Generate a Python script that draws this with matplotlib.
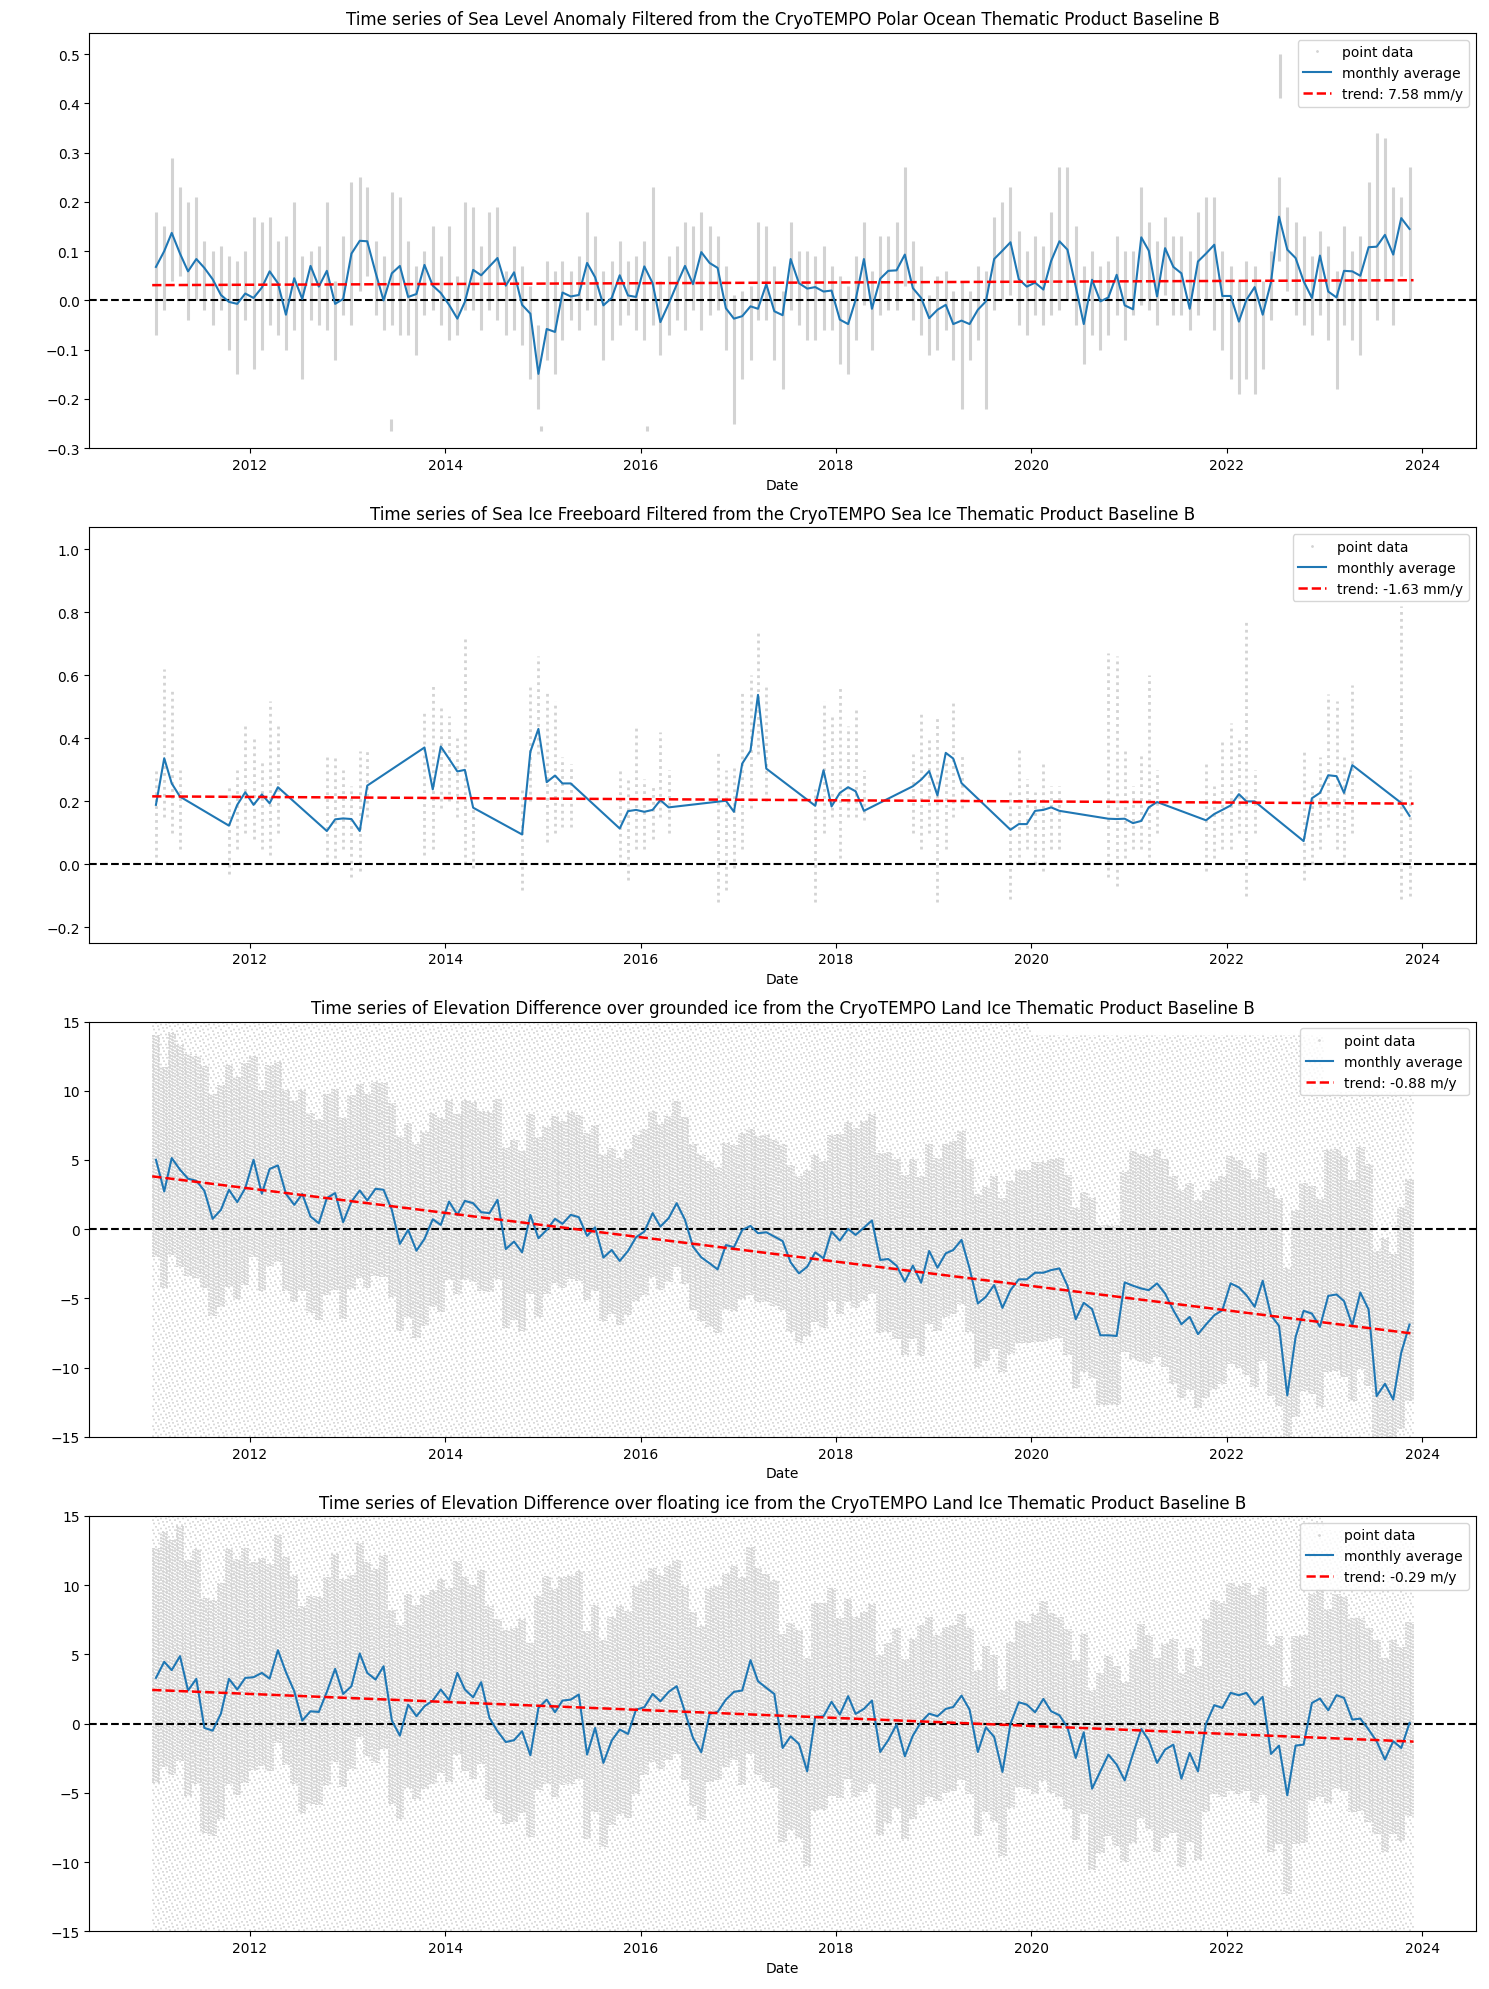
#!/usr/bin/env python3
'''
CryoTEMPO Baseline B time series: point data, monthly averages and trends
'''
import numpy as np
import matplotlib
matplotlib.use('Agg')
from matplotlib import pyplot as plt

# ---------------------------------------------------------------- data
# monthly averages, Jan 2011 .. Nov 2023 (155 months)
sla_mean = [
    0.068, 0.100, 0.137, 0.095, 0.059, 0.084, 0.066, 0.043, 0.011, -0.003, -0.007, 0.014,
    0.005, 0.026, 0.059, 0.035, -0.029, 0.045, 0.003, 0.070, 0.028, 0.060, -0.007, 0.003,
    0.095, 0.121, 0.120, 0.057, 0.000, 0.055, 0.070, 0.007, 0.013, 0.072, 0.030, 0.015,
    -0.009, -0.037, -0.003, 0.062, 0.051, 0.069, 0.086, 0.030, 0.057, -0.009, -0.027, -0.149,
    -0.058, -0.064, 0.016, 0.008, 0.011, 0.076, 0.047, -0.010, 0.005, 0.051, 0.010, 0.007,
    0.069, 0.035, -0.044, -0.007, 0.032, 0.070, 0.033, 0.098, 0.076, 0.066, -0.016, -0.037,
    -0.032, -0.012, -0.017, 0.033, -0.022, -0.030, 0.084, 0.035, 0.024, 0.027, 0.018, 0.020,
    -0.039, -0.048, 0.001, 0.084, -0.017, 0.044, 0.060, 0.061, 0.093, 0.025, 0.005, -0.036,
    -0.019, -0.009, -0.048, -0.041, -0.048, -0.019, -0.002, 0.084, 0.101, 0.118, 0.043, 0.028,
    0.036, 0.022, 0.080, 0.120, 0.103, 0.028, -0.048, 0.042, -0.002, 0.006, 0.052, -0.010,
    -0.018, 0.128, 0.101, 0.008, 0.106, 0.068, 0.055, -0.017, 0.079, 0.095, 0.113, 0.009,
    0.009, -0.043, 0.001, 0.027, -0.029, 0.037, 0.170, 0.103, 0.086, 0.039, 0.005, 0.091,
    0.018, 0.006, 0.060, 0.059, 0.050, 0.108, 0.109, 0.133, 0.093, 0.167, 0.145]

# extent of the sea level point data in each month
sla_pt_lo = [
    -0.07, -0.02, 0.04, 0.05, -0.04, 0.00, -0.02, -0.05, -0.02, -0.10, -0.15, -0.04,
    -0.14, -0.10, -0.05, -0.07, -0.10, -0.06, -0.16, -0.04, -0.05, -0.06, -0.12, -0.03,
    -0.05, 0.02, 0.05, -0.03, -0.06, -0.05, -0.07, -0.07, -0.11, -0.03, -0.02, -0.05,
    -0.08, -0.07, -0.02, -0.02, -0.06, -0.02, -0.04, -0.07, -0.06, -0.09, -0.16, -0.22,
    -0.12, -0.15, -0.08, -0.04, -0.06, -0.02, -0.05, -0.12, -0.08, -0.05, -0.03, -0.06,
    -0.08, -0.05, -0.11, -0.07, -0.04, -0.06, -0.02, -0.06, -0.03, -0.02, -0.10, -0.25,
    -0.16, -0.12, -0.04, -0.04, -0.12, -0.18, -0.02, -0.05, -0.08, -0.08, -0.06, -0.06,
    -0.13, -0.15, -0.08, -0.01, -0.10, -0.03, -0.02, -0.02, 0.03, -0.04, -0.07, -0.11,
    -0.10, -0.06, -0.12, -0.22, -0.12, -0.08, -0.22, -0.02, 0.00, 0.01, -0.05, -0.07,
    -0.03, -0.05, -0.03, -0.02, 0.00, -0.05, -0.13, -0.07, -0.10, -0.07, -0.03, -0.08,
    -0.03, -0.01, -0.02, -0.05, 0.01, -0.03, -0.03, -0.06, -0.03, 0.00, -0.06, -0.10,
    -0.16, -0.19, -0.16, -0.19, -0.14, -0.04, 0.08, 0.02, -0.03, -0.05, -0.07, -0.03,
    -0.08, -0.18, -0.05, -0.08, -0.11, 0.00, -0.04, 0.04, -0.05, 0.05, 0.00]
sla_pt_hi = [
    0.18, 0.15, 0.29, 0.23, 0.20, 0.21, 0.12, 0.10, 0.11, 0.09, 0.08, 0.10,
    0.17, 0.16, 0.17, 0.12, 0.13, 0.20, 0.09, 0.10, 0.11, 0.20, 0.04, 0.13,
    0.24, 0.25, 0.23, 0.12, 0.09, 0.22, 0.21, 0.12, 0.07, 0.10, 0.15, 0.09,
    0.15, 0.05, 0.20, 0.19, 0.11, 0.18, 0.19, 0.06, 0.11, 0.07, 0.03, -0.05,
    0.08, 0.06, 0.08, 0.06, 0.09, 0.18, 0.13, 0.06, 0.08, 0.12, 0.08, 0.09,
    0.12, 0.23, 0.04, 0.09, 0.11, 0.16, 0.15, 0.18, 0.15, 0.13, 0.07, 0.01,
    0.02, 0.03, 0.16, 0.15, 0.07, 0.02, 0.16, 0.10, 0.10, 0.09, 0.11, 0.07,
    0.05, 0.03, 0.09, 0.16, 0.06, 0.13, 0.13, 0.16, 0.27, 0.12, 0.07, 0.01,
    0.05, 0.06, 0.02, 0.04, 0.02, 0.07, 0.06, 0.17, 0.20, 0.23, 0.14, 0.10,
    0.13, 0.11, 0.18, 0.27, 0.27, 0.15, 0.07, 0.10, 0.07, 0.08, 0.13, 0.10,
    0.10, 0.23, 0.16, 0.12, 0.17, 0.13, 0.13, 0.10, 0.18, 0.21, 0.21, 0.10,
    0.07, 0.04, 0.08, 0.07, 0.04, 0.10, 0.25, 0.19, 0.16, 0.13, 0.09, 0.14,
    0.11, 0.06, 0.15, 0.10, 0.13, 0.24, 0.34, 0.33, 0.23, 0.21, 0.27]
# isolated sea level strips outside the main spread
sla_out_day = ['2013-06-10', '2014-12-25', '2016-01-25', '2022-07-20']
sla_out_lo = [-0.265, -0.265, -0.265, 0.41]
sla_out_hi = [-0.240, -0.255, -0.255, 0.50]
sla_trend = [0.031, 0.041]

# sea ice freeboard: winter months only
fb_months = [
    '2011-01', '2011-02', '2011-03', '2011-04',
    '2011-10', '2011-11', '2011-12', '2012-01', '2012-02', '2012-03', '2012-04',
    '2012-10', '2012-11', '2012-12', '2013-01', '2013-02', '2013-03',
    '2013-10', '2013-11', '2013-12', '2014-01', '2014-02', '2014-03', '2014-04',
    '2014-10', '2014-11', '2014-12', '2015-01', '2015-02', '2015-03', '2015-04',
    '2015-10', '2015-11', '2015-12', '2016-01', '2016-02', '2016-03', '2016-04',
    '2016-10', '2016-11', '2016-12', '2017-01', '2017-02', '2017-03', '2017-04',
    '2017-10', '2017-11', '2017-12', '2018-01', '2018-02', '2018-03', '2018-04',
    '2018-10', '2018-11', '2018-12', '2019-01', '2019-02', '2019-03', '2019-04',
    '2019-10', '2019-11', '2019-12', '2020-01', '2020-02', '2020-03', '2020-04',
    '2020-10', '2020-11', '2020-12', '2021-01', '2021-02', '2021-03', '2021-04',
    '2021-10', '2021-11', '2021-12', '2022-01', '2022-02', '2022-03', '2022-04',
    '2022-10', '2022-11', '2022-12', '2023-01', '2023-02', '2023-03', '2023-04',
    '2023-10', '2023-11']
fb_mean = [
    0.189, 0.337, 0.257, 0.215,
    0.123, 0.189, 0.229, 0.189, 0.222, 0.194, 0.245,
    0.106, 0.143, 0.146, 0.144, 0.106, 0.250,
    0.371, 0.238, 0.374, 0.335, 0.295, 0.300, 0.180,
    0.095, 0.358, 0.430, 0.261, 0.282, 0.257, 0.257,
    0.114, 0.169, 0.173, 0.167, 0.173, 0.204, 0.181,
    0.199, 0.202, 0.167, 0.320, 0.361, 0.538, 0.304,
    0.186, 0.299, 0.184, 0.227, 0.245, 0.232, 0.170,
    0.248, 0.269, 0.296, 0.219, 0.354, 0.336, 0.258,
    0.110, 0.128, 0.128, 0.170, 0.173, 0.181, 0.170,
    0.145, 0.144, 0.145, 0.131, 0.138, 0.181, 0.198,
    0.140, 0.160, 0.173, 0.187, 0.223, 0.200, 0.200,
    0.074, 0.210, 0.227, 0.283, 0.280, 0.227, 0.315,
    0.195, 0.154]
fb_pt_lo = [
    0.00, 0.15, 0.10, 0.05,
    -0.03, 0.05, 0.10, 0.08, 0.05, 0.03, 0.10,
    0.00, 0.02, 0.05, -0.04, -0.02, 0.15,
    0.03, 0.05, 0.18, 0.20, 0.15, 0.00, -0.01,
    -0.08, 0.20, 0.35, 0.07, 0.10, 0.12, 0.12,
    0.00, -0.05, 0.05, 0.05, 0.08, 0.15, 0.10,
    -0.12, -0.08, -0.01, 0.05, 0.18, 0.35, 0.20,
    -0.12, 0.10, 0.15, 0.02, 0.15, 0.15, 0.14,
    0.10, 0.05, 0.10, -0.12, 0.05, 0.15, 0.18,
    -0.11, 0.00, 0.05, 0.00, -0.02, 0.05, 0.05,
    -0.04, -0.07, 0.02, 0.05, 0.05, 0.00, 0.10,
    -0.02, 0.02, 0.05, 0.05, 0.10, -0.10, 0.10,
    -0.05, 0.00, 0.05, 0.12, 0.05, 0.00, 0.10,
    -0.11, -0.10]
fb_pt_hi = [
    0.30, 0.62, 0.56, 0.30,
    0.25, 0.30, 0.45, 0.40, 0.33, 0.52, 0.45,
    0.35, 0.35, 0.30, 0.25, 0.36, 0.36,
    0.48, 0.57, 0.50, 0.47, 0.40, 0.72, 0.18,
    0.25, 0.57, 0.66, 0.55, 0.52, 0.34, 0.32,
    0.30, 0.28, 0.44, 0.27, 0.25, 0.42, 0.30,
    0.36, 0.30, 0.32, 0.55, 0.60, 0.74, 0.57,
    0.24, 0.52, 0.48, 0.56, 0.44, 0.50, 0.30,
    0.35, 0.48, 0.40, 0.47, 0.33, 0.52, 0.35,
    0.23, 0.37, 0.27, 0.23, 0.33, 0.25, 0.25,
    0.67, 0.66, 0.37, 0.25, 0.35, 0.60, 0.30,
    0.33, 0.25, 0.40, 0.45, 0.40, 0.77, 0.30,
    0.36, 0.26, 0.34, 0.54, 0.52, 0.35, 0.57,
    0.82, 0.30]
fb_trend = [0.216, 0.193]

# land ice elevation difference, grounded ice (m)
grd_mean = [
    5.02, 2.73, 5.14, 4.30, 3.65, 3.50, 2.78, 0.75, 1.40, 2.85, 1.96, 2.97,
    5.02, 2.56, 4.35, 4.61, 2.56, 1.76, 2.54, 0.92, 0.43, 2.25, 2.61, 0.51,
    2.00, 2.80, 2.08, 2.92, 2.85, 1.40, -1.06, -0.05, -1.55, -0.70, 0.72, 0.31,
    2.00, 1.04, 2.05, 1.88, 1.23, 1.16, 2.13, -1.43, -0.89, -1.67, 1.04, -0.65,
    -0.05, 0.75, 0.39, 1.04, 0.87, -0.48, 0.14, -2.05, -1.50, -2.29, -1.57, -0.58,
    -0.17, 1.16, 0.19, 0.80, 1.88, 0.68, -1.26, -2.03, -2.46, -2.90, -1.14, -1.30,
    -0.05, 0.24, -0.29, -0.22, -0.53, -0.85, -2.39, -3.19, -2.71, -1.67, -2.10, -0.17,
    -0.82, 0.02, -0.41, 0.12, 0.63, -2.22, -2.15, -2.63, -3.79, -2.63, -3.86, -1.57,
    -2.78, -1.74, -1.50, -0.77, -2.83, -5.36, -4.88, -4.03, -5.68, -4.40, -3.62, -3.62,
    -3.14, -3.14, -2.95, -2.83, -4.08, -6.50, -5.31, -5.77, -7.66, -7.66, -7.71, -3.84,
    -4.08, -4.28, -4.40, -3.91, -4.64, -5.85, -6.86, -6.33, -7.58, -6.88, -6.21, -5.85,
    -3.91, -4.20, -4.76, -5.60, -3.72, -6.21, -6.98, -12.00, -7.78, -5.89, -6.09, -7.05,
    -4.81, -4.71, -5.19, -6.93, -4.57, -5.80, -12.05, -11.16, -12.30, -8.91, -6.88]
grd_trend = [3.82, -7.54]

# land ice elevation difference, floating ice (m)
flt_mean = [
    3.30, 4.46, 3.86, 4.87, 2.39, 3.23, -0.31, -0.51, 0.72, 3.23, 2.46, 3.30,
    3.35, 3.66, 3.25, 5.30, 3.71, 2.34, 0.22, 0.89, 0.84, 2.29, 3.95, 2.14,
    2.70, 5.06, 3.66, 3.18, 4.14, 0.22, -0.87, 1.37, 0.53, 1.25, 1.66, 2.46,
    1.69, 3.66, 2.46, 1.90, 2.99, 0.41, -0.55, -1.33, -1.20, -0.55, -2.29, 1.13,
    1.73, 0.82, 1.66, 1.73, 2.10, -2.24, -0.31, -2.84, -1.23, -0.43, -0.75, 1.01,
    1.18, 2.14, 1.61, 2.29, 2.70, 0.84, -1.04, -2.07, 0.70, 0.84, 1.73, 2.29,
    2.39, 4.58, 3.06, 2.58, 2.14, -1.76, -0.92, -1.47, -3.45, 0.48, 0.53, 1.57,
    0.65, 1.98, 0.70, 1.06, 1.66, -2.05, -1.20, -0.07, -2.36, -0.87, 0.12, 0.72,
    0.53, 1.06, 1.20, 2.02, 1.01, -2.05, -0.27, -0.96, -3.49, -0.02, 1.54, 1.37,
    0.82, 1.78, 0.89, 0.60, -0.27, -2.48, -0.63, -4.70, -3.45, -2.24, -2.96, -4.10,
    -2.19, -0.39, -1.20, -2.84, -1.88, -1.52, -3.98, -2.12, -3.45, -0.02, 1.33, 1.13,
    2.22, 2.05, 2.22, 1.37, 1.93, -2.19, -1.59, -5.18, -1.59, -1.52, 1.49, 1.81,
    0.96, 2.05, 1.86, 0.29, 0.36, -0.43, -1.28, -2.60, -1.28, -1.76, 0.05]
flt_trend = [2.43, -1.30]

# spread of the land ice point clouds per year 2011..2023:
# dense core (distance below / above the monthly average) and sparse tails
years = list(range(2011, 2024))
grd_core_below = [7, 7, 6.3, 5.7, 4.6, 4.6, 5, 5.3, 4.6, 5, 5.3, 5.8, 5.5]
grd_core_above = [9, 7.5, 7.7, 7.3, 7.4, 7.4, 7, 7.7, 7.9, 8, 9.7, 9.2, 10.5]
grd_tail_lo = [-15, -15, -15, -15, -15, -15, -15, -15, -15, -15, -15, -15, -15]
grd_tail_hi = [15, 15, 15, 15, 15, 15, 15, 15, 15, 14, 14, 14, 10]
flt_core_below = [7.6, 6.7, 6, 5.9, 6.1, 4.9, 6.8, 6, 6.1, 5.9, 6.4, 7.1, 6.7]
flt_core_above = [9.4, 8.3, 8, 8.1, 8.9, 9.1, 8.2, 7, 5.9, 7.1, 7.6, 7.9, 7.3]
flt_tail_lo = [-15, -15, -15, -15, -15, -15, -15, -15, -15, -15, -15, -15, -15]
flt_tail_hi = [15, 15, 15, 15, 15, 15, 15, 15, 15, 15, 15, 15, 14]

titles = [
    'Time series of Sea Level Anomaly Filtered from the CryoTEMPO Polar Ocean Thematic Product Baseline B',
    'Time series of Sea Ice Freeboard Filtered from the CryoTEMPO Sea Ice Thematic Product Baseline B',
    'Time series of Elevation Difference over grounded ice from the CryoTEMPO Land Ice Thematic Product Baseline B',
    'Time series of Elevation Difference over floating ice from the CryoTEMPO Land Ice Thematic Product Baseline B',
]
trend_labels = ['trend: 7.58 mm/y', 'trend: -1.63 mm/y', 'trend: -0.88 m/y', 'trend: -0.29 m/y']
ylims = [(-0.3, 0.543), (-0.248, 1.07), (-15, 15), (-15, 15)]

# ---------------------------------------------------------------- dates
months = np.arange('2011-01', '2023-12', dtype='datetime64[M]')
mid_month = months.astype('datetime64[D]') + 14
fb_mid = np.array(fb_months, dtype='datetime64[M]').astype('datetime64[D]') + 14
trend_days = np.array(['2011-01-01', '2023-11-30'], dtype='datetime64[D]')
XLIM = (np.datetime64('2010-05-11'), np.datetime64('2024-07-19'))


def draw_cloud(ax, mean, below, above, tail_lo, tail_hi):
    # dotted columns, several per month: sparse tails, then a dense core round the mean
    yi = (months.astype('datetime64[Y]').astype(int) + 1970) - years[0]
    mean = np.array(mean)
    lo = np.maximum(mean - np.array(below)[yi], -15)
    hi = np.minimum(mean + np.array(above)[yi], 15)
    base = months.astype('datetime64[D]')
    n = len(base)
    for j, day in enumerate((2, 8, 14, 20, 26)):
        x = base + day
        tail_ls = [(((i * 5 + j * 2) % 6) * 1.0, (1, 5)) for i in range(n)]
        core_ls = [(((i * 3 + j) % 4) * 0.45, (1, 0.8)) for i in range(n)]
        ax.vlines(x, np.array(tail_lo)[yi], np.array(tail_hi)[yi], color='lightgray',
                  lw=1.2, linestyles=tail_ls, zorder=1)
        ax.vlines(x, lo, hi, color='lightgray', lw=1.3, linestyles=core_ls, zorder=1)


fig, axes = plt.subplots(4, 1, figsize=(14.89, 19.90), dpi=100)
fig.subplots_adjust(left=0.060, right=0.991, top=0.983, bottom=0.029, hspace=0.19)

# panel 1: sea level anomaly
ax = axes[0]
ax.vlines(mid_month, sla_pt_lo, sla_pt_hi, color='lightgray', lw=2.2, zorder=1)
ax.vlines(np.array(sla_out_day, dtype='datetime64[D]'), sla_out_lo, sla_out_hi,
          color='lightgray', lw=2.2, zorder=1)
series = [(mid_month, sla_mean, sla_trend)]

# panel 2: freeboard
ax = axes[1]
ax.vlines(fb_mid, fb_pt_lo, fb_pt_hi, color='lightgray', lw=2.0,
          linestyle=(0, (1, 1.5)), zorder=1)
series.append((fb_mid, fb_mean, fb_trend))

# panels 3, 4: land ice
draw_cloud(axes[2], grd_mean, grd_core_below, grd_core_above, grd_tail_lo, grd_tail_hi)
series.append((mid_month, grd_mean, grd_trend))
draw_cloud(axes[3], flt_mean, flt_core_below, flt_core_above, flt_tail_lo, flt_tail_hi)
series.append((mid_month, flt_mean, flt_trend))

for i, ax in enumerate(axes):
    x, y, trend = series[i]
    ax.plot([], [], linestyle='none', marker='.', ms=2, color='lightgray', label='point data')
    ax.plot(x, y, color='C0', lw=1.5, label='monthly average', zorder=3)
    ax.plot(trend_days, trend, 'r--', lw=1.8, label=trend_labels[i], zorder=4)
    ax.axhline(0, color='k', linestyle='--', lw=1.5, zorder=2)
    ax.set_xlim(XLIM)
    ax.set_ylim(ylims[i])
    ax.set_title(titles[i])
    ax.set_xlabel('Date')
    ax.legend(loc='upper right')

plt.savefig('out.png')
